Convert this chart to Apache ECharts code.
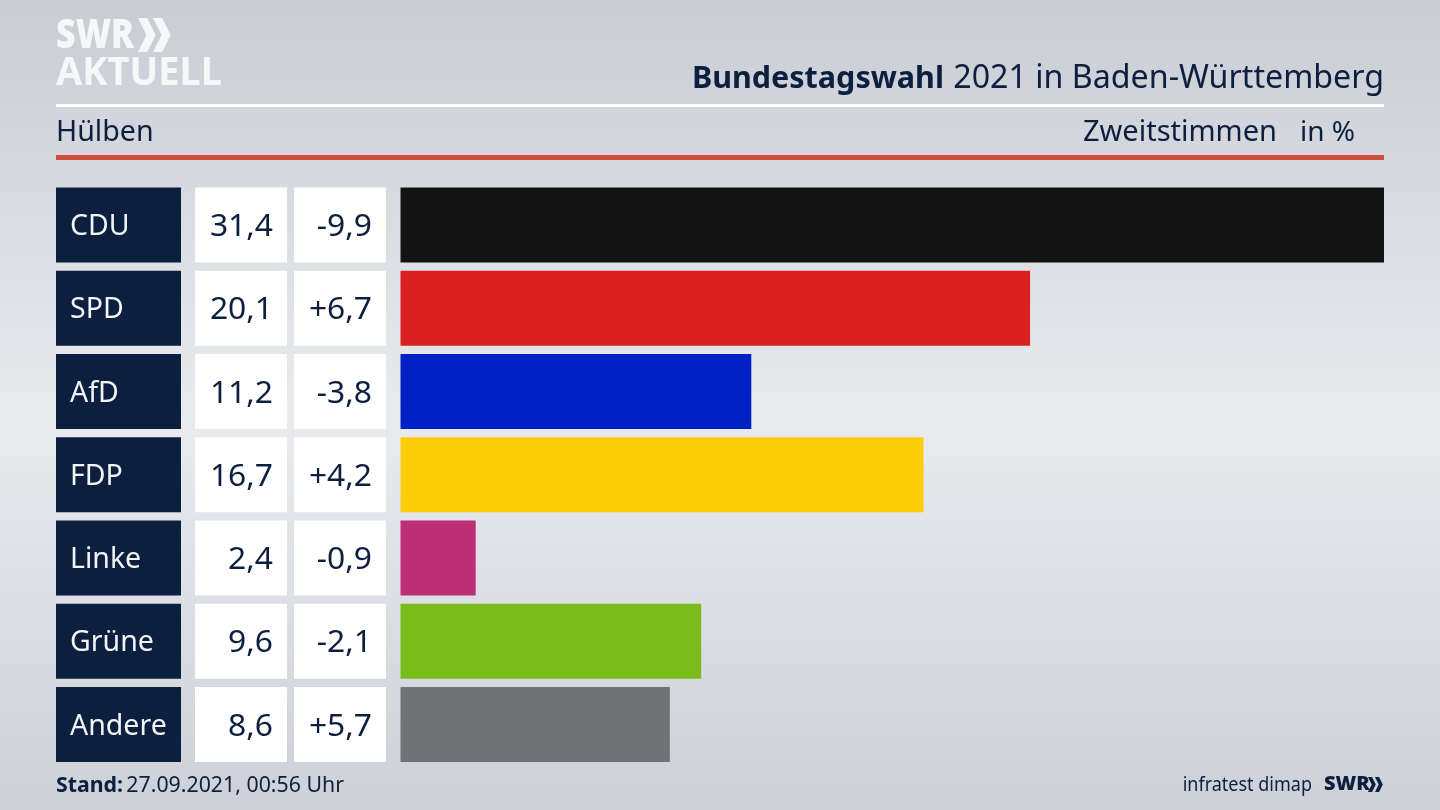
<!DOCTYPE html>
<html><head><meta charset="utf-8">
<style>html,body{margin:0;padding:0;background:#d5d8de}#c{width:1440px;height:810px}</style>
<script src="https://cdn.jsdelivr.net/npm/echarts@6/dist/echarts.min.js"></script>
</head><body><div id="c"></div>
<script>
const parties = ['CDU','SPD','AfD','FDP','Linke','Grüne','Andere'];
const shares = [31.4,20.1,11.2,16.7,2.4,9.6,8.6];
const changes = ['-9,9','+6,7','-3,8','+4,2','-0,9','-2,1','+5,7'];
const colors = ['#131313','#da1f1f','#0021c4','#ffcc08','#bc2f74','#7abd1a','#717274'];
const shareLabels = shares.map(v => v.toFixed(1).replace('.', ','));

const navy = '#0c1f3f';
const font = '"Noto Sans"';
const top0 = 183.4, h = 582.8;
const fullData = parties.map(() => 1);
function mkGrid(left, width){ return {left, width, top: top0, height: h, containLabel:false}; }
function xA(i, max){ return {type:'value', gridIndex:i, min:0, max, show:false}; }
function yA(i){ return {type:'category', gridIndex:i, data:parties, inverse:true, show:false}; }
function cell(i, color, labelColor, texts, pos, off, size){
  return {type:'bar', xAxisIndex:i, yAxisIndex:i, data:fullData, barWidth:75, silent:true, animation:false,
    itemStyle:{color},
    label:{show:true, position:pos, offset:[off,2], color:labelColor, fontFamily:font, fontSize:size,
      formatter:p => texts[p.dataIndex]}};
}
function tx(x,y,text,size,weight,align,color,sx){
  return {type:'text', x, y, scaleX:sx||1, silent:true, style:{text, fontFamily:font, fontSize:size, fontWeight:weight||'normal',
    fill:color||navy, align:align||'left', verticalAlign:'middle'}};
}
function chev(x,y,s,c){
  const t=s*0.27, d=s*0.25;
  return {type:'polygon', silent:true, shape:{points:[[x,y],[x+t,y],[x+t+d,y+s/2],[x+t,y+s],[x,y+s],[x+d,y+s/2]]}, style:{fill:c}};
}
const white='#f6f7f8';
const chart = echarts.init(document.getElementById('c'), null, {renderer:'canvas'});
chart.setOption({
  animation:false,
  backgroundColor:{type:'linear',x:0,y:0,x2:0,y2:1,colorStops:[
    {offset:0,color:'#c9ccd3'},{offset:0.52,color:'#e9ebef'},{offset:1,color:'#cdd0d6'}]},
  grid:[mkGrid(56,125),mkGrid(195,92),mkGrid(294,92),mkGrid(400.5,983.5)],
  xAxis:[xA(0,1),xA(1,1),xA(2,1),xA(3,31.4)],
  yAxis:[yA(0),yA(1),yA(2),yA(3)],
  series:[
    cell(0,navy,'#f2f4f7',parties,'insideLeft',9,28.5),
    cell(1,'#ffffff',navy,shareLabels,'insideRight',-9,31.8),
    cell(2,'#ffffff',navy,changes,'insideRight',-9,31.8),
    {type:'bar', xAxisIndex:3, yAxisIndex:3, barWidth:75, silent:true, animation:false,
     data:shares.map((v,i)=>({value:v,itemStyle:{color:colors[i]}}))}
  ],
  graphic:[
    {type:'rect',silent:true,shape:{x:56,y:104,width:1328,height:3},style:{fill:'#ffffff'}},
    {type:'rect',silent:true,shape:{x:56,y:155,width:1328,height:5},style:{fill:'#cf4f3d'}},
    tx(56,36,'SWR',41,'900','left',white,0.83),
    tx(56,74,'AKTUELL',40,'700','left',white,0.95),
    chev(138,18,34,white), chev(153,18,34,white),
    tx(944,79,'Bundestagswahl',30.5,'bold','right'),
    tx(1384,79,'2021 in Baden-Württemberg',32.2,'normal','right'),
    tx(56,133,'Hülben',28.6),
    tx(1277,133,'Zweitstimmen',29,'normal','right'),
    tx(1355,133,'in %',28,'normal','right'),
    {type:'text',x:56,y:786,silent:true,style:{
      rich:{b:{fontFamily:font,fontSize:21.3,fontWeight:'bold',fill:navy},n:{fontFamily:font,fontSize:21.3,fill:navy}},
      text:'{b|Stand:} {n|27.09.2021, 00:56 Uhr}',align:'left',verticalAlign:'middle'}},
    tx(1312,785,'infratest dimap',20,'normal','right',navy,0.9),
    tx(1324,784,'SWR',20,'900','left'),
    chev(1368,777,15,navy), chev(1375,777,15,navy)
  ]
});
</script></body></html>
